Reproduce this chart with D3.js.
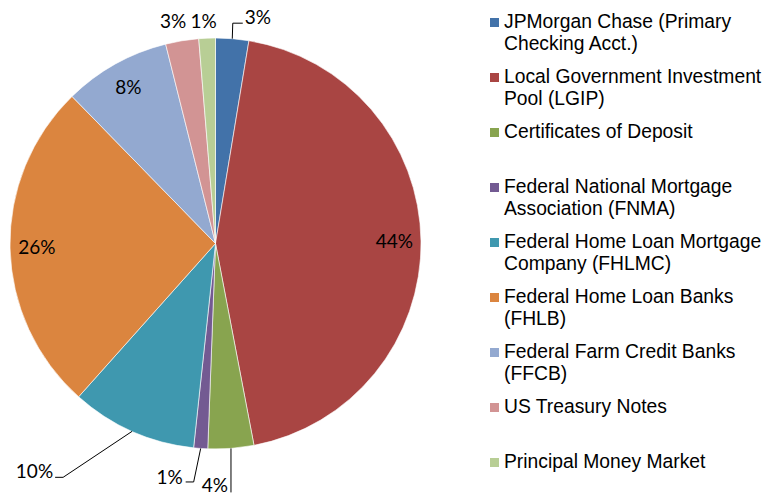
<!DOCTYPE html>
<html lang="en">
    <head>
        <meta charset="utf-8">
        <title>Investment Portfolio Pie</title>
        <script type="text/javascript" src="https://d3js.org/d3.v7.min.js"></script>
        <style type="text/css">
          body { margin: 0; background: #fff; }
          svg { display: block; }
        </style>
    </head>
    <body>
        <svg width="768" height="496"></svg>
        <script type="text/javascript">

            // data (percent of portfolio)
            const categories = [
              "JPMorgan Chase (Primary Checking Acct.)",
              "Local Government Investment Pool (LGIP)",
              "Certificates of Deposit",
              "Federal National Mortgage Association (FNMA)",
              "Federal Home Loan Mortgage Company (FHLMC)",
              "Federal Home Loan Banks (FHLB)",
              "Federal Farm Credit Banks (FFCB)",
              "US Treasury Notes",
              "Principal Money Market"
            ];
            const values = [2.6, 44.4, 3.6, 1.1, 9.9, 26.1, 8.4, 2.6, 1.3];
            // legend text split as it wraps in the original
            const legendLines = [
              ["JPMorgan Chase (Primary", "Checking Acct.)"],
              ["Local Government Investment", "Pool (LGIP)"],
              ["Certificates of Deposit"],
              ["Federal National Mortgage", "Association (FNMA)"],
              ["Federal Home Loan Mortgage", "Company (FHLMC)"],
              ["Federal Home Loan Banks", "(FHLB)"],
              ["Federal Farm Credit Banks", "(FFCB)"],
              ["US Treasury Notes"],
              ["Principal Money Market"]
            ];
            const colors = ["#4272A9", "#A94543", "#88A44F", "#735A92", "#3F98AF",
                            "#DB853F", "#93A9D0", "#D29494", "#B8CE95"];

            const svg = d3.select("svg");
            const cx = 215.5, cy = 243.5, r = 205.5;
            const labelFont = "Lato, 'Open Sans', sans-serif";

            const total = d3.sum(values);
            const pie = d3.pie().sort(null).value(d => d);
            const arcs = pie(values);
            const arc = d3.arc().innerRadius(0).outerRadius(r);
            const labelArc = d3.arc().innerRadius(r * 0.87).outerRadius(r * 0.87);

            const g = svg.append("g").attr("transform", `translate(${cx},${cy})`);

            g.selectAll("path.slice")
             .data(arcs)
             .enter()
             .append("path")
             .attr("class", "slice")
             .attr("d", arc)
             .style("fill", (d, i) => colors[i])
             .style("stroke", "#fff")
             .style("stroke-width", 0.6);

            // label placement: inside end, or outside (offsets from the slice edge point)
            // leader: elbow points relative to edge ; text: [dx, dy, anchor]
            const labelPlace = [
              {out: true, leader: [[0.5, -15.5], [10.5, -15.5]], text: [12.5, -14.5, "start"]},
              {out: false},
              {out: true, leader: [[0, 44]], text: [-3, 44, "end"]},
              {out: true, leader: [[-7, 33.5], [-15, 33.5]], text: [-18, 35.5, "end"]},
              {out: true, leader: [[-69, 46], [-77, 46]], text: [-79, 47, "end"]},
              {out: false},
              {out: false},
              {out: true, top: true, text: [-9, 0, "middle"]},
              {out: true, top: true, text: [-3.5, 0, "middle"]}
            ];

            const edge = d => {
              const a = (d.startAngle + d.endAngle) / 2;
              return [r * Math.sin(a), -r * Math.cos(a)];
            };
            const pct = v => Math.round(v / total * 100) + "%";

            arcs.forEach((d, i) => {
              const p = labelPlace[i];
              if (!p.out) {
                const c = labelArc.centroid(d);
                g.append("text")
                 .attr("x", c[0]).attr("y", c[1])
                 .attr("dy", "0.35em")
                 .attr("text-anchor", "middle")
                 .style("font-family", labelFont)
                 .style("font-size", "19px")
                 .style("fill", "#000")
                 .text(pct(values[i]));
                return;
              }
              const e = edge(d);
              let tx = e[0] + p.text[0], ty = e[1] + p.text[1];
              if (p.top) ty = -r - 10; // small top slices: label straight above, no leader
              if (p.leader) {
                const pts = [e].concat(p.leader.map(q => [e[0] + q[0], e[1] + q[1]]));
                g.append("path")
                 .attr("d", d3.line()(pts))
                 .style("fill", "none")
                 .style("stroke", "#000")
                 .style("stroke-width", 1);
              }
              g.append("text")
               .attr("x", tx).attr("y", ty)
               .attr("text-anchor", p.text[2])
               .style("font-family", labelFont)
               .style("font-size", "19px")
               .style("fill", "#000")
               .text(pct(values[i]));
            });

            // legend
            const legend = svg.append("g").attr("transform", "translate(490,28)");
            const item = legend.selectAll("g.item")
                               .data(legendLines)
                               .enter()
                               .append("g")
                               .attr("class", "item")
                               .attr("transform", (d, i) => `translate(0,${i * 55})`);

            item.append("rect")
                .attr("x", 0).attr("y", -10)
                .attr("width", 9).attr("height", 9)
                .style("fill", (d, i) => colors[i]);

            item.append("text")
                .attr("x", 14)
                .style("font-family", "'Liberation Sans', Arial, sans-serif")
                .style("font-size", "19.3px")
                .style("fill", "#000")
                .selectAll("tspan")
                .data(d => d)
                .enter()
                .append("tspan")
                .attr("x", 14)
                .attr("dy", (d, j) => j === 0 ? 0 : 22)
                .text(d => d);

        </script>
    </body>
</html>
